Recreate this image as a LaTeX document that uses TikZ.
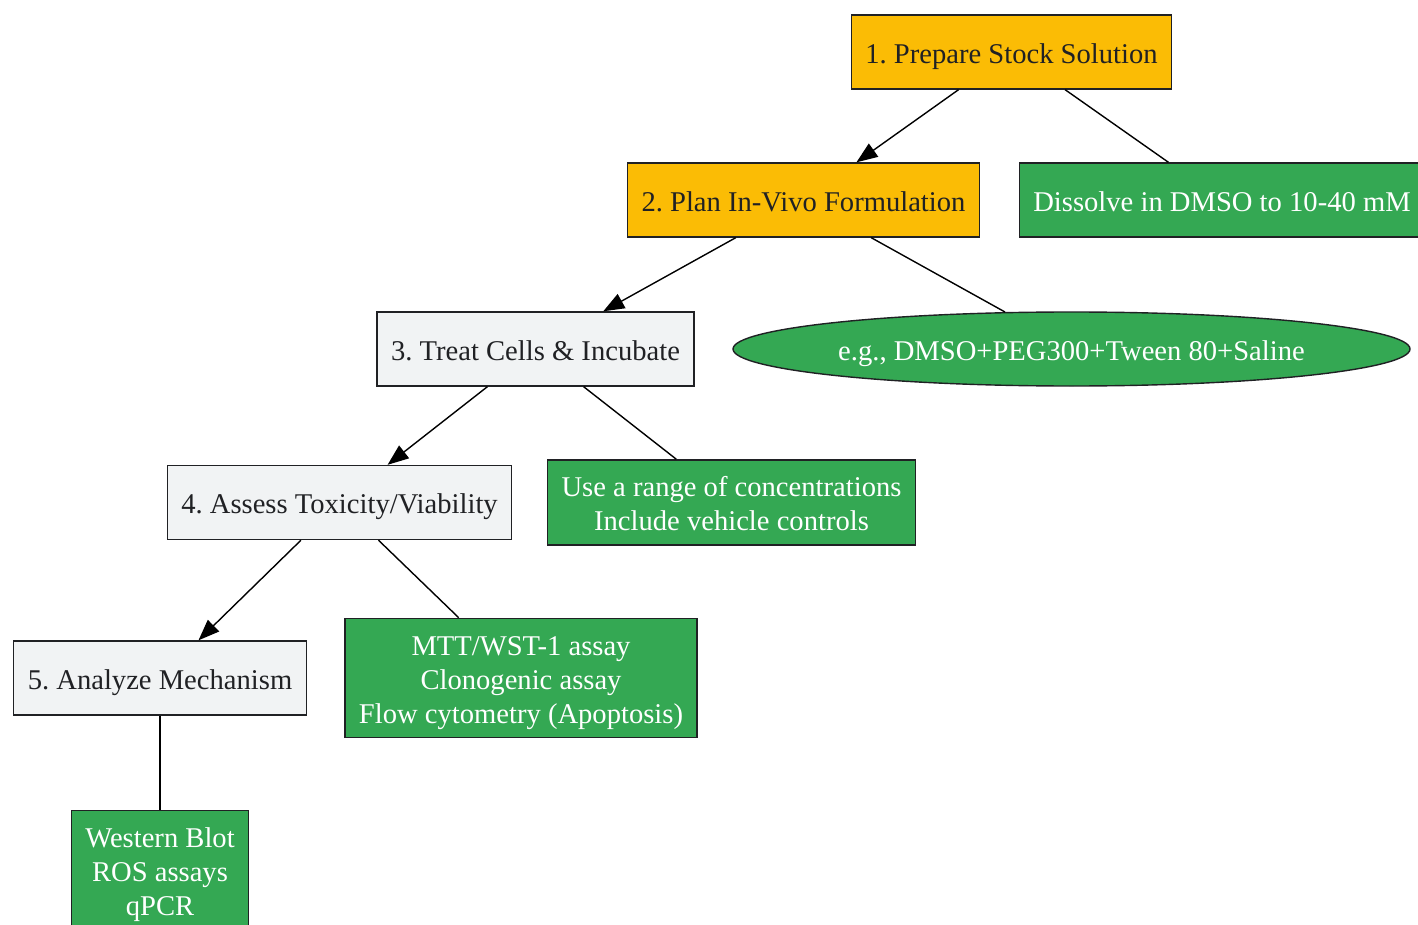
\documentclass[tikz,border=0pt]{standalone}
\usepackage{fontspec}
\setmainfont{Liberation Serif}
\usetikzlibrary{arrows.meta,shapes.geometric}
\definecolor{gold}{HTML}{FBBC05}
\definecolor{leaf}{HTML}{34A853}
\definecolor{pale}{HTML}{F1F3F4}
\definecolor{ink}{HTML}{202124}
\frenchspacing
\newcommand{\topstrut}{\rule{0pt}{15pt}}
\newcommand{\botstrut}{\rule[-3.6pt]{0pt}{3.6pt}}

\begin{document}
\begin{tikzpicture}[x=0.5pt, y=-0.5pt,
  every node/.style={font=\fontsize{14.3}{17}\selectfont, align=center},
  base/.style={draw=ink, line width=0.7pt, rectangle, minimum height=37pt, inner xsep=7pt, inner ysep=3.5pt},
  goldbox/.style={base, fill=gold, text=ink},
  graybox/.style={base, fill=pale, text=ink},
  greenbox/.style={base, fill=leaf, text=white},
  greenoval/.style={draw=ink, line width=0.7pt, ellipse, fill=leaf, text=white, minimum width=338.5pt, minimum height=37pt, inner sep=0pt},
  arr/.style={line width=0.7pt, -{Triangle[length=10.5pt, width=8pt]}},
  link/.style={line width=0.7pt}]
  \useasboundingbox (0,0) rectangle (1418,925);
  \clip (0,0) rectangle (1418,925);
  \node[goldbox] (s1) at (1011.5,52) {\topstrut1. Prepare Stock Solution\botstrut};
  \node[goldbox] (s2) at (803.5,200) {\topstrut2. Plan In-Vivo Formulation\botstrut};
  \node[graybox] (s3) at (535.5,349) {\topstrut3. Treat Cells \& Incubate\botstrut};
  \node[graybox] (s4) at (339.5,502.5) {\topstrut4. Assess Toxicity/Viability\botstrut};
  \node[graybox] (s5) at (160,678) {\topstrut5. Analyze Mechanism\botstrut};
  \node[greenbox] (n1) at (1222,200) {\topstrut Dissolve in DMSO to 10-40 mM\botstrut};
  \node[greenoval] (n2) at (1071.5,349) {\topstrut e.g., DMSO+PEG300+Tween 80+Saline\botstrut};
  \node[greenbox] (n3) at (731.5,502.5) {\topstrut Use a range of concentrations\\Include vehicle controls\botstrut};
  \node[greenbox] (n4) at (521,678) {\topstrut MTT/WST-1 assay\\Clonogenic assay\\Flow cytometry (Apoptosis)\botstrut};
  \node[greenbox] (n5) at (160,870) {\topstrut Western Blot\\ROS assays\\qPCR\botstrut};
  \draw[arr] (s1) -- (s2);
  \draw[arr] (s2) -- (s3);
  \draw[arr] (s3) -- (s4);
  \draw[arr] (s4) -- (s5);
  \draw[link] (s1) -- (n1);
  \draw[link] (s2) -- (n2);
  \draw[link] (s3) -- (n3);
  \draw[link] (s4) -- (n4);
  \draw[link] (s5) -- (n5);
\end{tikzpicture}
\end{document}
